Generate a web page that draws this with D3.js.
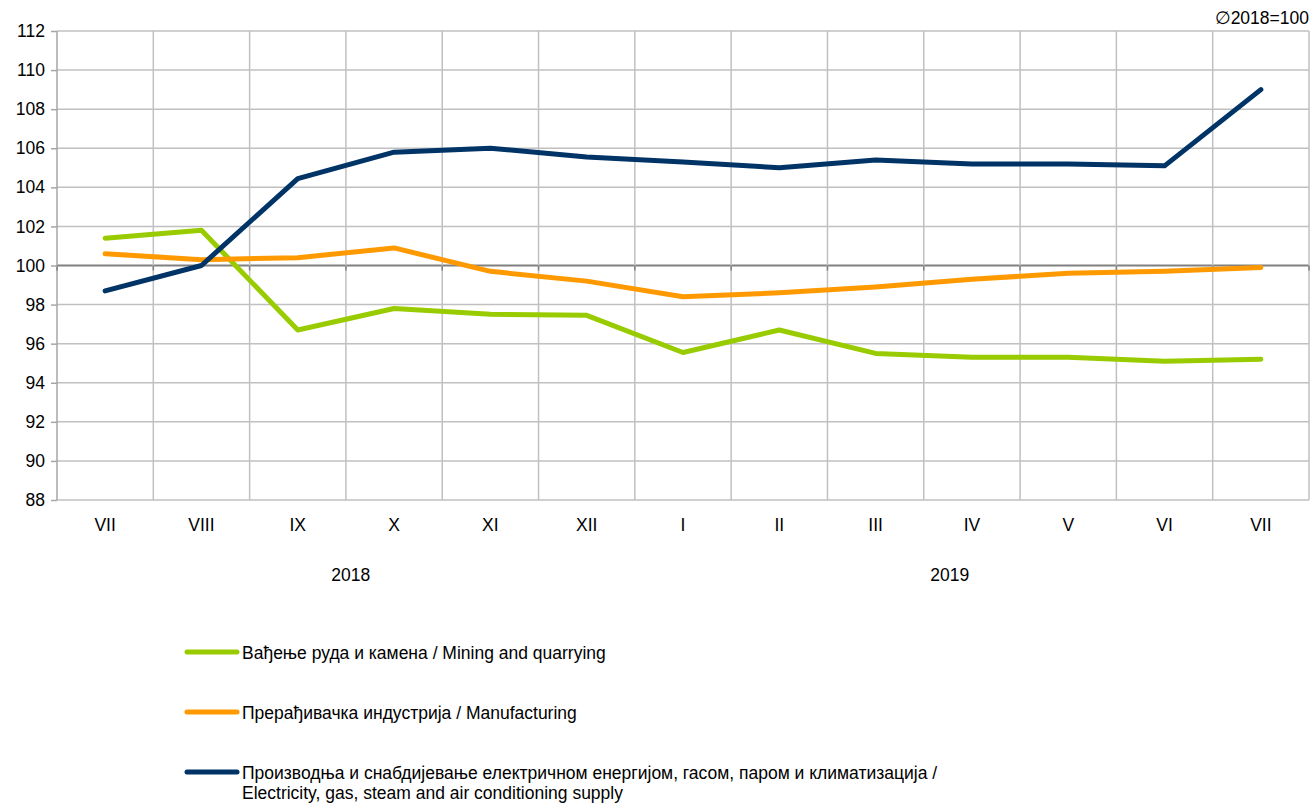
<!DOCTYPE html>
<html>
<head>
<meta charset="utf-8">
<script src="https://cdn.jsdelivr.net/npm/d3@7"></script>
<style>
  body { margin: 0; background: #fff; }
  text { font-family: "Liberation Sans", Arial, sans-serif; fill: #000; }
</style>
</head>
<body>
<script>
// categories and values
const months = ["VII", "VIII", "IX", "X", "XI", "XII", "I", "II", "III", "IV", "V", "VI", "VII"];
const yTicks = [88, 90, 92, 94, 96, 98, 100, 102, 104, 106, 108, 110, 112];
const mining = [101.4, 101.8, 96.7, 97.8, 97.5, 97.45, 95.55, 96.7, 95.5, 95.3, 95.3, 95.1, 95.2];
const manufacturing = [100.6, 100.3, 100.4, 100.9, 99.7, 99.2, 98.4, 98.6, 98.9, 99.3, 99.6, 99.7, 99.9];
const electricity = [98.7, 100.0, 104.45, 105.8, 106.0, 105.55, 105.3, 105.0, 105.4, 105.2, 105.2, 105.1, 109.0];
const seriesNames = [
  ["Вађење руда и камена / Mining and quarrying"],
  ["Прерађивачка индустрија / Manufacturing"],
  ["Производња и снабдијевање електричном енергијом, гасом, паром и климатизација /", "Electricity, gas, steam and air conditioning supply"]
];
const colors = ["#99cc00", "#ff9900", "#003366"];
const years = ["2018", "2019"];

let fs = "17.5px";
let margin = {top: 31, right: 3, bottom: 304, left: 57};
let width = 1312 - margin.left - margin.right;
let height = 804 - margin.top - margin.bottom;

let svg = d3.select("body").append("svg")
  .attr("width", 1312).attr("height", 804);
let g = svg.append("g").attr("transform", "translate(" + margin.left + "," + margin.top + ")");

let idx = d3.range(months.length);
let x = d3.scaleBand().domain(idx).range([0, width]);
let y = d3.scaleLinear().domain([88, 112]).range([height, 0]);

// horizontal gridlines
g.selectAll(".hgrid").data(yTicks).enter().append("line")
  .attr("x1", 0).attr("x2", width)
  .attr("y1", d => y(d)).attr("y2", d => y(d))
  .attr("stroke", d => d === 100 ? "#808080" : "#c0c0c0")
  .attr("stroke-width", d => d === 100 ? 2 : 1.5);

// vertical gridlines at band edges
let edges = idx.map(i => x(i)).concat([width]);
g.selectAll(".vgrid").data(edges).enter().append("line")
  .attr("x1", d => d).attr("x2", d => d)
  .attr("y1", 0).attr("y2", height)
  .attr("stroke", (d, i) => i === 0 ? "#a6a6a6" : "#c0c0c0")
  .attr("stroke-width", 1.5);

// small ticks on the 100 line
g.selectAll(".xtick").data(edges).enter().append("line")
  .attr("x1", d => d).attr("x2", d => d)
  .attr("y1", y(100)).attr("y2", y(100) + 5)
  .attr("stroke", "#808080").attr("stroke-width", 1.5);

// y axis
let yAxis = g.append("g")
  .call(d3.axisLeft(y).tickValues(yTicks).tickSize(6).tickPadding(6));
yAxis.select(".domain").remove();
yAxis.selectAll(".tick line").attr("stroke", "#a6a6a6").attr("stroke-width", 1.5);
yAxis.selectAll("text").style("font-size", fs).attr("font-family", null);

// month labels
g.selectAll(".mlab").data(idx).enter().append("text")
  .attr("x", i => x(i) + x.bandwidth() / 2)
  .attr("y", height + 31)
  .attr("text-anchor", "middle")
  .style("font-size", fs)
  .text(i => months[i]);

// year labels (placed under the year's months, as in the source layout)
let yearAt = [2.55, 8.77];
g.selectAll(".ylab").data(years).enter().append("text")
  .attr("x", (d, i) => x(0) + x.bandwidth() * (yearAt[i] + 0.5))
  .attr("y", height + 81)
  .attr("text-anchor", "middle")
  .style("font-size", fs)
  .text(d => d);

// base note
svg.append("text")
  .attr("x", 1309).attr("y", 24)
  .attr("text-anchor", "end")
  .style("font-size", fs)
  .text("∅2018=100");

// lines
let line = d3.line()
  .x((d, i) => x(i) + x.bandwidth() / 2)
  .y(d => y(d));

[mining, manufacturing, electricity].forEach((s, k) => {
  g.append("path")
    .datum(s)
    .attr("fill", "none")
    .attr("stroke", colors[k])
    .attr("stroke-width", 5)
    .attr("stroke-linejoin", "round")
    .attr("stroke-linecap", "round")
    .attr("d", line);
});

// legend
let legendY = [652, 712, 772];
seriesNames.forEach((lines, k) => {
  let lg = svg.append("g").attr("transform", "translate(185," + legendY[k] + ")");
  lg.append("line")
    .attr("x1", 2).attr("x2", 52).attr("y1", 0).attr("y2", 0)
    .attr("stroke", colors[k]).attr("stroke-width", 5).attr("stroke-linecap", "round");
  lines.forEach((t, j) => {
    lg.append("text")
      .attr("x", 57).attr("y", 7 + j * 20)
      .style("font-size", fs)
      .text(t);
  });
});
</script>
</body>
</html>
